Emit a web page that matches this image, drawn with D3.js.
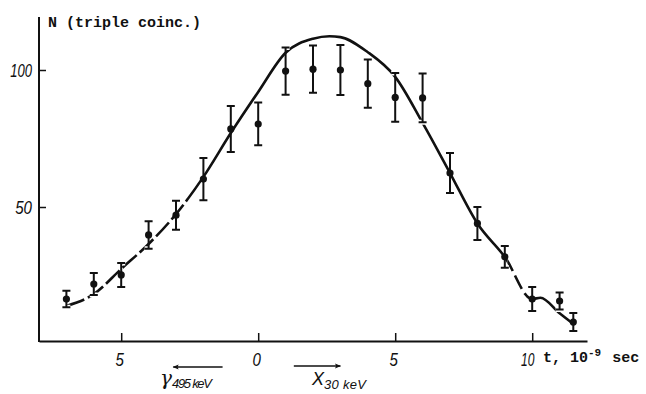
<!DOCTYPE html>
<html>
<head>
<meta charset="utf-8">
<script src="https://cdn.jsdelivr.net/npm/d3@7"></script>
<style>
  body { margin: 0; background: #fff; }
  .tick-label { font-family: "Liberation Sans", Arial, sans-serif; font-style: italic; font-size: 19px; fill: #111; }
  .axis-title { font-family: "Liberation Mono", "DejaVu Sans Mono", monospace; font-weight: bold; font-size: 15px; fill: #111; }
  .note { font-family: "Liberation Sans", Arial, sans-serif; font-style: italic; fill: #111; }
</style>
</head>
<body>
<div id="chart"></div>
<script>
// measured points (t in 1e-9 s, N triple coincidences, error half-width)
var pointT   = [-7, -6, -5, -4, -3, -2, -1, 0, 1, 2, 3, 4, 5, 6, 7, 8, 9, 10, 11, 11.5];
var pointN   = [16.4, 21.9, 25.2, 39.8, 47, 60.2, 78.5, 80.3, 99.6, 100.3, 100, 95, 90, 89.8, 62.4, 44, 31.8, 16.4, 15.7, 8];
var pointErr = [3, 4, 4.4, 5, 5.3, 7.7, 8.4, 7.8, 8.6, 8.6, 9.1, 8.8, 8.9, 8.9, 7.3, 6, 4, 4.4, 3.1, 3.3];

// fitted curve
var curveT = [-7, -6, -5, -4, -3, -2, -1, 0, 1, 2, 2.6, 3, 4, 5, 6, 7, 8, 9, 10, 10.3, 11, 11.5];
var curveN = [13.9, 18.2, 27.4, 36.5, 47.4, 61, 77, 92, 106.3, 111.4, 112.3, 112, 106.5, 97.5, 80.7, 62.4, 44, 31.8, 16.4, 16.9, 11.2, 7.3];

var xTicks = [-5, 0, 5, 10];
var yTicks = [50, 100];

// arrows under the axis: [from t, to t]
var arrowGamma = [-1.3, -3.1];
var arrowX = [1.3, 3.0];

var width = 646, height = 394;
var svg = d3.select("#chart").append("svg")
  .attr("width", width)
  .attr("height", height);

var xScale = d3.scaleLinear().domain([-8, 12]).range([39, 587]);
var yScale = d3.scaleLinear().domain([0, 120]).range([344, 15.2]);
var axisY = 341;

// narrow italic digits like the printed figure
function digitWidth(s) {
  return String(s).split("").reduce(function(a, c) { return a + (c === "1" ? 5 : 8.4); }, 0);
}

var defs = svg.append("defs");
defs.append("marker")
  .attr("id", "arrow")
  .attr("viewBox", "0 0 10 10")
  .attr("refX", 9).attr("refY", 5)
  .attr("markerWidth", 11).attr("markerHeight", 6)
  .attr("markerUnits", "userSpaceOnUse")
  .attr("orient", "auto")
  .append("path")
  .attr("d", "M0,1L10,5L0,9L2,5Z")
  .attr("fill", "#111");

// Axes
var xAxis = svg.append("g")
  .attr("transform", "translate(0," + axisY + ")")
  .call(d3.axisBottom(xScale).tickValues(xTicks).tickSize(-8).tickSizeOuter(0)
    .tickFormat(function(d) { return Math.abs(d); }));
xAxis.select(".domain").attr("stroke", "#111").attr("stroke-width", 2);
xAxis.selectAll(".tick line").attr("stroke", "#111").attr("stroke-width", 1.5);
xAxis.selectAll(".tick text")
  .attr("class", "tick-label")
  .attr("font-family", null).attr("font-size", null)
  .attr("textLength", function(d) { return digitWidth(Math.abs(d)); })
  .attr("lengthAdjust", "spacingAndGlyphs")
  .attr("y", 7).attr("dx", function(d) { return d === 10 ? -5 : -2; }).attr("dy", "0.93em");

var yAxis = svg.append("g")
  .attr("transform", "translate(" + xScale.range()[0] + ",0)")
  .call(d3.axisLeft(yScale).tickValues(yTicks).tickSize(-7).tickSizeOuter(0));
yAxis.select(".domain")
  .attr("d", "M0," + yScale(119.3) + "V" + (axisY + 1))
  .attr("stroke", "#111").attr("stroke-width", 2);
yAxis.selectAll(".tick line").attr("stroke", "#111").attr("stroke-width", 1.5);
yAxis.selectAll(".tick text")
  .attr("class", "tick-label")
  .attr("font-family", null).attr("font-size", null)
  .attr("textLength", function(d) { return digitWidth(d); })
  .attr("lengthAdjust", "spacingAndGlyphs")
  .attr("x", -7);

svg.append("text")
  .attr("class", "axis-title")
  .attr("x", 48).attr("y", 27)
  .attr("textLength", 153)
  .text("N (triple coinc.)");

var tl = svg.append("text")
  .attr("class", "axis-title")
  .attr("x", 543).attr("y", 362);
tl.append("tspan").text("t, 10");
tl.append("tspan").attr("dy", -6).attr("font-size", 11).text("-9");
tl.append("tspan").attr("dy", 6).attr("dx", 2).text(" sec");

// Curve, solid in the middle, dashed at the ends
var line = d3.line()
  .x(function(d, i) { return xScale(curveT[i]); })
  .y(function(d) { return yScale(d); })
  .curve(d3.curveMonotoneX);

var segs = [
  { id: "c1", from: -8, to: -2.6, dash: "19,4" },
  { id: "c2", from: -2.6, to: 9.1, dash: null },
  { id: "c3", from: 9.1, to: 9.9, dash: "15,5" },
  { id: "c4", from: 9.9, to: 12, dash: null }
];
segs.forEach(function(s) {
  defs.append("clipPath").attr("id", s.id)
    .append("rect")
    .attr("x", xScale(s.from)).attr("y", 0)
    .attr("width", xScale(s.to) - xScale(s.from)).attr("height", height);
  svg.append("path")
    .datum(curveN)
    .attr("clip-path", "url(#" + s.id + ")")
    .attr("d", line)
    .attr("fill", "none")
    .attr("stroke", "#111")
    .attr("stroke-width", 2.6)
    .attr("stroke-dasharray", s.dash);
});

// Error bars and points
var pts = pointT.map(function(t, i) { return { t: t, n: pointN[i], e: pointErr[i] }; });
var capW = 4;
var bars = svg.append("g").selectAll("g").data(pts).join("g");
// white halo on caps, gives the breaks in the curve
bars.append("path")
  .attr("d", function(d) {
    var x = xScale(d.t);
    return "M" + (x - capW) + "," + yScale(d.n + d.e) + "H" + (x + capW) +
           "M" + (x - capW) + "," + yScale(d.n - d.e) + "H" + (x + capW);
  })
  .attr("stroke", "#fff").attr("stroke-width", 5).attr("fill", "none");
bars.append("path")
  .attr("d", function(d) {
    var x = xScale(d.t);
    return "M" + x + "," + yScale(d.n + d.e) + "V" + yScale(d.n - d.e) +
           "M" + (x - capW) + "," + yScale(d.n + d.e) + "H" + (x + capW) +
           "M" + (x - capW) + "," + yScale(d.n - d.e) + "H" + (x + capW);
  })
  .attr("stroke", "#111").attr("stroke-width", 2).attr("fill", "none");
bars.append("circle")
  .attr("cx", function(d) { return xScale(d.t); })
  .attr("cy", function(d) { return yScale(d.n); })
  .attr("r", 3.6)
  .attr("fill", "#111");

// Arrows and labels
svg.append("line")
  .attr("x1", xScale(arrowGamma[0])).attr("x2", xScale(arrowGamma[1]))
  .attr("y1", 367).attr("y2", 367)
  .attr("stroke", "#111").attr("stroke-width", 1.6)
  .attr("marker-end", "url(#arrow)");
svg.append("line")
  .attr("x1", xScale(arrowX[0])).attr("x2", xScale(arrowX[1]))
  .attr("y1", 366).attr("y2", 366)
  .attr("stroke", "#111").attr("stroke-width", 1.6)
  .attr("marker-end", "url(#arrow)");

var g1 = svg.append("text").attr("class", "note").attr("x", 160).attr("y", 385);
g1.append("tspan").attr("font-size", 20).attr("font-family", "DejaVu Serif").text("γ");
g1.append("tspan").attr("font-size", 13).attr("dy", 3).attr("textLength", 40).text("495 keV");

var g2 = svg.append("text").attr("class", "note").attr("x", 312).attr("y", 385);
g2.append("tspan").attr("font-size", 18).attr("textLength", 11).text("X");
g2.append("tspan").attr("font-size", 13).attr("dy", 4).attr("textLength", 42).text("30 keV");
</script>
</body>
</html>
